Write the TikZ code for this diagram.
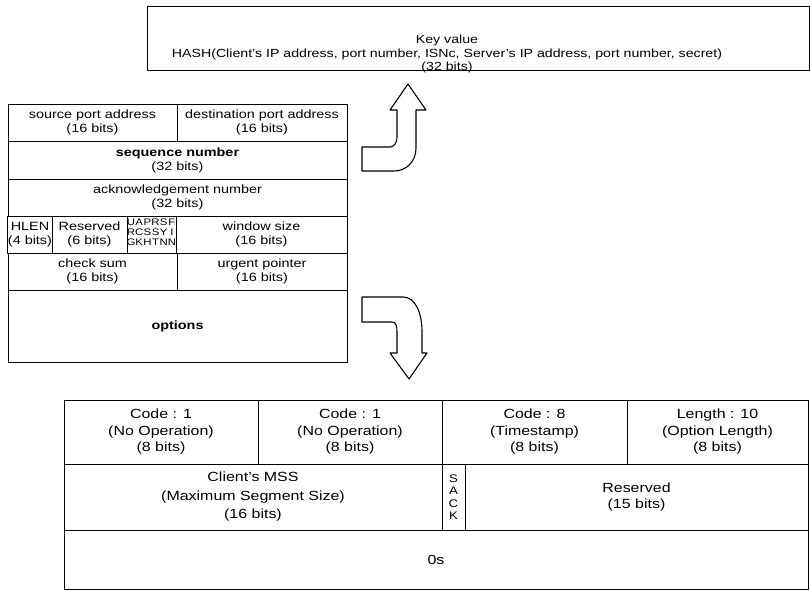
\documentclass[tikz,border=0pt]{standalone}
\usepackage{fontspec}
\setmainfont{Liberation Sans}[FakeStretch=1.2]
\usepackage{tikz}
\usetikzlibrary{calc}

\begin{document}
\begin{tikzpicture}[x=1pt, y=-1pt, line width=1pt, line join=round,
		hdrcell/.style={draw, rectangle, inner sep=0pt, align=center, font=\fontsize{12}{14}\selectfont},
		optcell/.style={draw, rectangle, inner sep=0pt, align=center, font=\fontsize{13.3}{16.5}\selectfont},
		blockarrow/.style={draw, fill=white, line width=1.1pt}]
			\newcommand{\Field}[7][hdrcell]{
				\node[#1, minimum width={#5-#3}, minimum height={#6-#4}] (#2) at ({(#3+#5)/2},{(#4+#6)/2}) {#7};
			}

			\useasboundingbox (0,0) rectangle (810,590);

			\node[draw, inner sep=0pt, minimum width=662, minimum height=64] (keybox) at (478,38) {};
			\node[align=center, inner sep=0pt, font=\fontsize{11.8}{13.8}\selectfont] (keyval) at (447,54) {Key value\\HASH(Client's IP address, port number, ISNc, Server's IP address, port number, secret)\\(32 bits)};

			\Field{srcport}{8}{104}{177}{141}{source port address\\(16 bits)}
			\Field{dstport}{177}{104}{347}{141}{destination port address\\(16 bits)}
			\Field{seqnum}{8}{141}{347}{179}{{\bfseries sequence number}\\(32 bits)}
			\Field{acknum}{8}{179}{347}{216}{acknowledgement number\\(32 bits)}
			\Field{hlen}{8}{216}{52}{253}{HLEN\\(4 bits)}
			\Field{rsvd}{52}{216}{127}{253}{Reserved\\(6 bits)}
			\Field{flags}{127}{216}{176}{253}{}
			\Field{window}{176}{216}{347}{253}{window size\\(16 bits)}
			\Field{checksum}{8}{253}{177}{290}{check sum\\(16 bits)}
			\Field{urgent}{177}{253}{347}{290}{urgent pointer\\(16 bits)}
			\Field{options}{8}{290}{347}{362}{\bfseries options}

			\def\FlagW{8.17}
			\foreach \a/\b/\c [count=\i] in {U/R/G, A/C/K, P/S/H, R/S/T, S/Y/N, F/I/N}
				\node[align=center, inner sep=0pt, font=\fontsize{9.5}{10}\selectfont] (flag\i) at ({127+(\i-0.5)*\FlagW},232) {\a\\\b\\\c};

			\draw[blockarrow] (362,147) -- (390,147) .. controls (394,147) and (397,143) .. (397,137) -- (397,110) -- (390,110) -- (408,84) -- (426,110) -- (416,110) -- (416,148) .. controls (416,162) and (406,171) .. (394,171) -- (362,171) -- cycle;

			\draw[blockarrow] (362,297) -- (403,297) .. controls (415,297) and (422,312) .. (422,332) -- (422,353) -- (427,353) -- (409,379) -- (390,353) -- (397,353) -- (397,332) .. controls (397,326) and (396,322) .. (392,322) -- (362,322) -- cycle;

			\Field[optcell]{nop1}{64}{400}{258}{464}{Code : 1\\(No Operation)\\(8 bits)}
			\Field[optcell]{nop2}{258}{400}{442}{464}{Code : 1\\(No Operation)\\(8 bits)}
			\Field[optcell]{tscode}{442}{400}{627}{464}{Code : 8\\(Timestamp)\\(8 bits)}
			\Field[optcell]{optlen}{627}{400}{808}{464}{Length : 10\\(Option Length)\\(8 bits)}
			\Field[optcell, font=\fontsize{13.3}{18.5}\selectfont]{mss}{64}{464}{442}{530}{Client's MSS\\(Maximum Segment Size)\\(16 bits)}
			\Field[optcell]{sack}{442}{464}{465}{530}{}
			\Field[optcell]{rsvdopt}{465}{464}{808}{530}{Reserved\\(15 bits)}
			\Field[optcell]{zeros}{64}{530}{808}{589}{0s}

			\node[align=center, inner sep=0pt, font=\fontsize{11}{12.5}\selectfont] (sacktxt) at (sack) {S\\A\\C\\K};
		\end{tikzpicture}
\end{document}
